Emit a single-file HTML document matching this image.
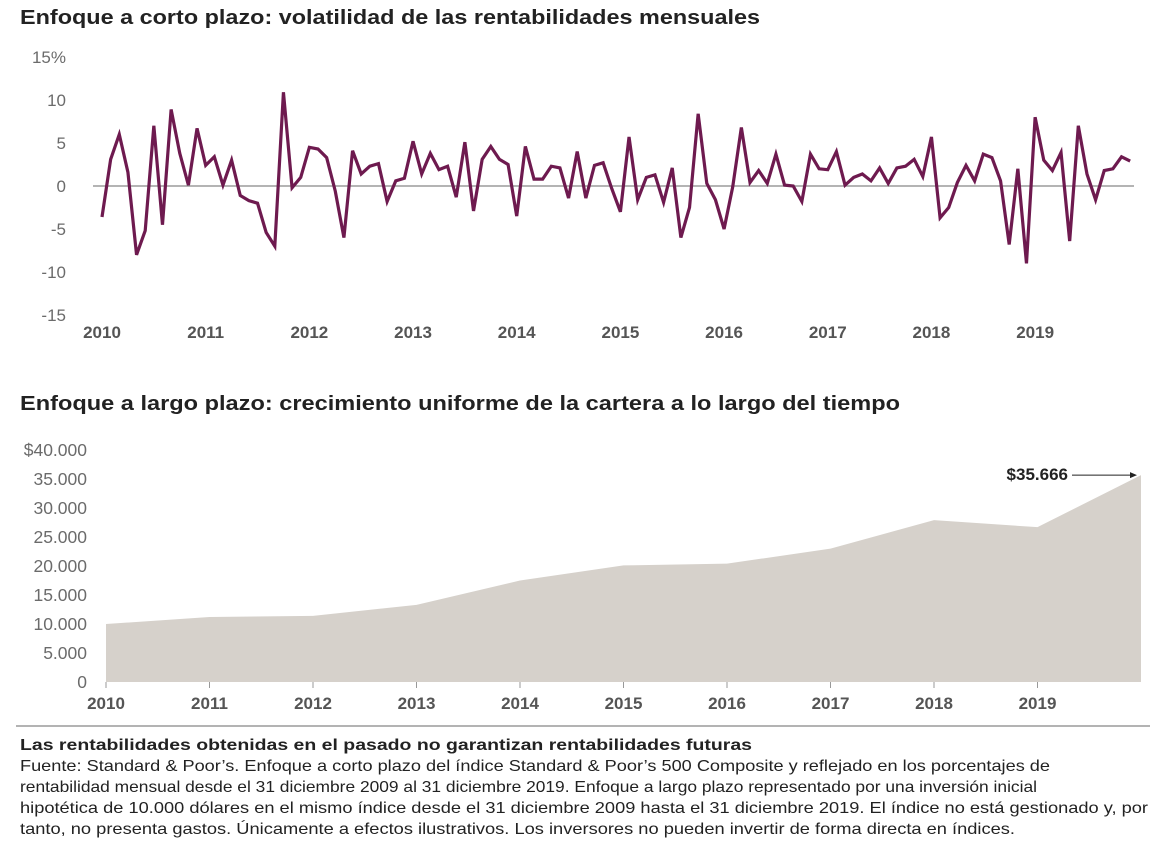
<!DOCTYPE html>
<html><head><meta charset="utf-8"><style>
body{margin:0;background:#fff;width:1166px;height:853px;overflow:hidden;font-family:"Liberation Sans",sans-serif;}
svg{position:absolute;left:0;top:0}
</style></head><body>
<svg width="1166" height="853">
<text x="20" y="24" font-size="20.5" fill="#222" font-weight="bold" textLength="740" lengthAdjust="spacingAndGlyphs">Enfoque a corto plazo: volatilidad de las rentabilidades mensuales</text>
<text x="20" y="410" font-size="20.5" fill="#222" font-weight="bold" textLength="880" lengthAdjust="spacingAndGlyphs">Enfoque a largo plazo: crecimiento uniforme de la cartera a lo largo del tiempo</text>
<g id="top"></g><g id="bot"></g>
<line x1="16" x2="1150" y1="726" y2="726" stroke="#9a9a9a" stroke-width="1.5"/>
<g font-size="16" fill="#222">
<text x="20" y="750" font-weight="bold" textLength="732" lengthAdjust="spacingAndGlyphs">Las rentabilidades obtenidas en el pasado no garantizan rentabilidades futuras</text>
<text x="20" y="771" textLength="1030" lengthAdjust="spacingAndGlyphs">Fuente: Standard &amp; Poor’s. Enfoque a corto plazo del índice Standard &amp; Poor’s 500 Composite y reflejado en los porcentajes de</text>
<text x="20" y="792" textLength="1017" lengthAdjust="spacingAndGlyphs">rentabilidad mensual desde el 31 diciembre 2009 al 31 diciembre 2019. Enfoque a largo plazo representado por una inversión inicial</text>
<text x="20" y="813" textLength="1128" lengthAdjust="spacingAndGlyphs">hipotética de 10.000 dólares en el mismo índice desde el 31 diciembre 2009 hasta el 31 diciembre 2019. El índice no está gestionado y, por</text>
<text x="20" y="834" textLength="995" lengthAdjust="spacingAndGlyphs">tanto, no presenta gastos. Únicamente a efectos ilustrativos. Los inversores no pueden invertir de forma directa en índices.</text>
</g>
</svg>
<script>
const years=["2010","2011","2012","2013","2014","2015","2016","2017","2018","2019"];
const monthlyReturns=[-3.6,3.1,6.0,1.6,-8.0,-5.2,7.0,-4.5,8.9,3.8,0.1,6.7,
2.4,3.4,0.1,3.0,-1.1,-1.7,-2.0,-5.4,-7.0,10.9,-0.2,1.0,
4.5,4.3,3.3,-0.6,-6.0,4.1,1.4,2.3,2.6,-1.8,0.6,0.9,
5.2,1.4,3.8,1.9,2.3,-1.3,5.1,-2.9,3.1,4.6,3.1,2.5,
-3.5,4.6,0.8,0.8,2.3,2.1,-1.4,4.0,-1.4,2.4,2.7,-0.3,
-3.0,5.7,-1.6,1.0,1.3,-1.9,2.1,-6.0,-2.5,8.4,0.3,-1.6,
-5.0,-0.1,6.8,0.4,1.8,0.3,3.7,0.1,0.0,-1.8,3.7,2.0,
1.9,4.0,0.1,1.0,1.4,0.6,2.1,0.3,2.1,2.3,3.1,1.1,
5.7,-3.7,-2.5,0.4,2.4,0.6,3.7,3.3,0.6,-6.8,2.0,-9.0,
8.0,3.0,1.8,3.9,-6.4,7.0,1.4,-1.6,1.8,2.0,3.4,2.9];
const topTicks=[15,10,5,0,-5,-10,-15];
const topTickLabels=["15%","10","5","0","-5","-10","-15"];
const growthLabels=["2010","2011","2012","2013","2014","2015","2016","2017","2018","2019","end"];
const growthValues=[10000,11200,11400,13300,17500,20100,20400,23000,27900,26700,35666];
const botTicks=[40000,35000,30000,25000,20000,15000,10000,5000,0];
const botTickLabels=["$40.000","35.000","30.000","25.000","20.000","15.000","10.000","5.000","0"];
const NS="http://www.w3.org/2000/svg";
function mk(p,t,a){const e=document.createElementNS(NS,t);for(const k in a)e.setAttribute(k,a[k]);p.appendChild(e);return e;}
// top chart
const T=document.getElementById('top');
const ty=v=>186-v*8.6, tx=i=>102+i*8.64;
topTicks.forEach((v,i)=>{const t=mk(T,'text',{x:66,y:ty(v)+6,'font-size':17,fill:'#6b6b6b','text-anchor':'end'});t.textContent=topTickLabels[i];

});
years.forEach((y,i)=>{const t=mk(T,'text',{x:tx(i*12),y:338,'font-size':17,fill:'#555','font-weight':'bold','text-anchor':'middle'});t.textContent=y;

});
const z=mk(T,'line',{x1:93,x2:1134,y1:ty(0),y2:ty(0),stroke:'#888','stroke-width':1.2});


const pl=mk(T,'polyline',{points:monthlyReturns.map((v,i)=>tx(i)+','+ty(v)).join(' '),fill:'none',stroke:'#6e1a4f','stroke-width':3.2,'stroke-linejoin':'miter'});


// bottom chart
const B=document.getElementById('bot');
const by=v=>682-v*0.0058, bx=i=>106+i*103.5;
botTicks.forEach((v,i)=>{const t=mk(B,'text',{x:87,y:by(v)+6,'font-size':17.5,fill:'#6b6b6b','text-anchor':'end'});t.textContent=botTickLabels[i];

});
const ar=mk(B,'polygon',{points:bx(0)+','+by(0)+' '+growthValues.map((v,i)=>bx(i)+','+by(v)).join(' ')+' '+bx(growthValues.length-1)+','+by(0),fill:'#d6d1cb'});


years.forEach((y,i)=>{mk(B,'line',{x1:bx(i),x2:bx(i),y1:682,y2:688,stroke:'#999'});
const t=mk(B,'text',{x:bx(i),y:709,'font-size':17,fill:'#555','font-weight':'bold','text-anchor':'middle'});t.textContent=y;

});
const last=growthValues[growthValues.length-1];
const lab=mk(B,'text',{x:1068,y:by(last)+5,'font-size':17,fill:'#222','font-weight':'bold','text-anchor':'end'});
lab.textContent='$'+last.toLocaleString('de-DE');


mk(B,'line',{x1:1072,x2:1130,y1:by(last),y2:by(last),stroke:'#222','stroke-width':1});
mk(B,'path',{d:`M1130 ${by(last)-3} L1137 ${by(last)} L1130 ${by(last)+3}Z`,fill:'#222'});
</script>
</body></html>
